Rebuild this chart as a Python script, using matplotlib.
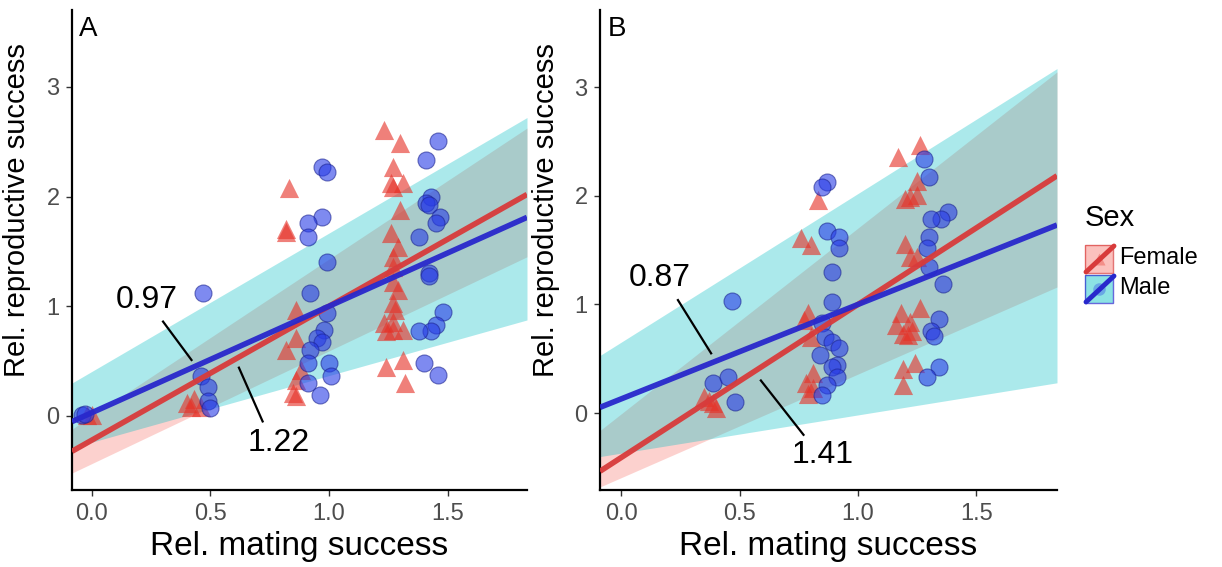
import numpy as np
import matplotlib.pyplot as plt
from matplotlib.patches import Rectangle

plt.rcParams["font.family"] = ["Liberation Sans", "DejaVu Sans"]

FEMALE_FILL = "#f8766d"
MALE_FILL = "#00bfc4"
FEMALE_LINE = "#d83b3b"
MALE_LINE = "#2828cc"
FEMALE_PT = "#e63228"
MALE_PT = "#283ce6"

# ---- panel A: relative mating vs reproductive success ----
a_female_x = [1.23, 1.30, 1.27, 1.26, 1.31, 1.27, 0.83, 0.82, 0.82, 1.30, 1.26, 1.29,
              1.27, 1.27, 1.27, 1.29, 1.27, 1.28, 1.23, 1.27, 1.31, 1.24, 1.27, 1.24,
              1.31, 1.32, 0.86, 0.86, 0.82, 0.88, 0.86, 0.85, 0.86, 0.40, 0.43, 0.46,
              0.42, -0.02, 0.00]
a_female_y = [2.61, 2.49, 2.27, 2.12, 2.12, 2.09, 2.08, 1.70, 1.68, 1.88, 1.67, 1.54,
              1.45, 1.36, 1.22, 1.15, 1.03, 0.97, 0.85, 0.86, 0.78, 0.77, 0.78, 0.45,
              0.51, 0.30, 0.97, 0.71, 0.60, 0.42, 0.33, 0.21, 0.18, 0.12, 0.15, 0.08,
              0.08, 0.01, 0.01]
a_male_x = [1.46, 1.41, 0.97, 0.99, 1.43, 1.41, 1.42, 0.97, 0.91, 0.91, 1.47, 1.45,
            1.38, 0.99, 1.42, 1.42, 0.47, 0.92, 0.99, 0.98, 0.95, 0.97, 0.92, 0.91,
            0.91, 1.00, 1.01, 0.96, 1.48, 1.45, 1.43, 1.38, 1.40, 1.46, 0.46, 0.49,
            0.49, 0.50, -0.04, -0.03]
a_male_y = [2.51, 2.33, 2.27, 2.22, 2.00, 1.94, 1.92, 1.81, 1.76, 1.63, 1.81, 1.76,
            1.63, 1.40, 1.30, 1.28, 1.12, 1.12, 0.94, 0.78, 0.71, 0.67, 0.60, 0.48,
            0.30, 0.48, 0.36, 0.19, 0.95, 0.83, 0.77, 0.77, 0.48, 0.37, 0.36, 0.26,
            0.14, 0.07, 0.01, 0.02]

# ---- panel B ----
b_female_x = [1.26, 1.17, 1.25, 1.22, 1.25, 1.20, 0.83, 0.76, 0.80, 1.20, 1.22, 1.25,
              0.79, 0.77, 0.80, 0.81, 0.78, 0.79, 0.81, 1.18, 1.26, 1.22, 1.16, 1.23,
              1.19, 1.21, 1.19, 1.24, 1.19, 0.35, 0.39, 0.40, 0.37]
b_female_y = [2.47, 2.36, 2.14, 1.99, 2.01, 1.97, 1.96, 1.61, 1.55, 1.56, 1.44, 1.44,
              0.92, 0.86, 0.70, 0.37, 0.28, 0.18, 0.23, 0.92, 0.97, 0.84, 0.81, 0.76,
              0.73, 0.72, 0.41, 0.46, 0.26, 0.15, 0.09, 0.05, 0.11]
b_male_x = [1.28, 1.30, 0.87, 0.85, 1.38, 1.35, 1.31, 0.87, 0.92, 0.92, 1.30, 1.29,
            1.30, 0.89, 0.47, 0.89, 1.36, 1.34, 1.31, 1.32, 1.34, 1.29, 0.85, 0.86,
            0.89, 0.92, 0.84, 0.91, 0.89, 0.91, 0.87, 0.85, 0.39, 0.45, 0.48]
b_male_y = [2.34, 2.17, 2.13, 2.08, 1.85, 1.79, 1.79, 1.68, 1.62, 1.52, 1.62, 1.52,
            1.34, 1.30, 1.03, 1.02, 1.19, 0.87, 0.76, 0.71, 0.42, 0.33, 0.83, 0.70,
            0.65, 0.60, 0.53, 0.44, 0.42, 0.33, 0.26, 0.17, 0.28, 0.33, 0.10]

# fitted lines: (intercept, slope); bands: ((lower int, lower slope), (upper int, upper slope))
a_female_fit = (-0.22, 1.22)
a_male_fit = (0.03, 0.97)
b_female_fit = (-0.41, 1.41)
b_male_fit = (0.13, 0.87)
a_female_band = ((-0.434, 1.027), (0.00, 1.43))
a_male_band = ((-0.239, 0.607), (0.406, 1.261))
b_female_band = ((-0.595, 0.954), (-0.008, 1.711))
b_male_band = ((-0.369, 0.352), (0.652, 1.369))

panels = [
    dict(tag="A", rect=[72, 10, 527, 490], xlim=(-0.084, 1.835), ylim=(-0.675, 3.70),
         fx=a_female_x, fy=a_female_y, mx=a_male_x, my=a_male_y,
         ffit=a_female_fit, mfit=a_male_fit, fband=a_female_band, mband=a_male_band,
         mlab=(0.23, 1.06, [0.30, 0.42], [0.86, 0.51]),
         flab=(0.79, -0.25, [0.62, 0.72], [0.44, -0.05]), ylab_x=31),
    dict(tag="B", rect=[600, 10, 1057, 490], xlim=(-0.089, 1.84), ylim=(-0.708, 3.71),
         fx=b_female_x, fy=b_female_y, mx=b_male_x, my=b_male_y,
         ffit=b_female_fit, mfit=b_male_fit, fband=b_female_band, mband=b_male_band,
         mlab=(0.165, 1.24, [0.24, 0.38], [1.04, 0.55]),
         flab=(0.85, -0.39, [0.59, 0.77], [0.30, -0.20]), ylab_x=560),
]

W, H = 1222, 567
fig = plt.figure(figsize=(W / 100, H / 100), dpi=100)

for p in panels:
    x0, y0, x1, y1 = p["rect"]
    ax = fig.add_axes([x0 / W, 1 - y1 / H, (x1 - x0) / W, (y1 - y0) / H])
    ax.set_xlim(*p["xlim"])
    ax.set_ylim(*p["ylim"])
    xs = np.linspace(p["xlim"][0], p["xlim"][1], 50)

    for band, col in [(p["fband"], FEMALE_FILL), (p["mband"], MALE_FILL)]:
        (li, ls), (ui, us) = band
        ax.fill_between(xs, li + ls * xs, ui + us * xs, color=col, alpha=0.33,
                        linewidth=0, zorder=1)

    ax.scatter(p["fx"], p["fy"], marker="^", s=190, color=FEMALE_PT, alpha=0.62,
               linewidths=0, zorder=2)
    ax.scatter(p["mx"], p["my"], marker="o", s=150, facecolor=MALE_PT,
               edgecolor="#1c2490", linewidths=0.8, alpha=0.6, zorder=3)

    for (b0, b1), col in [(p["ffit"], FEMALE_LINE), (p["mfit"], MALE_LINE)]:
        ax.plot(xs, b0 + b1 * xs, color=col, lw=4, alpha=0.95, zorder=4,
                solid_capstyle="butt")

    # slope labels
    for (tx, ty, lx, ly), slope in [(p["mlab"], p["mfit"][1]), (p["flab"], p["ffit"][1])]:
        ax.plot(lx, ly, color="black", lw=1.6, zorder=5)
        ax.text(tx, ty, f"{slope:.2f}", fontsize=23, ha="center", va="center", zorder=5)

    for side in ["top", "right"]:
        ax.spines[side].set_visible(False)
    for side in ["left", "bottom"]:
        ax.spines[side].set_linewidth(1.6)
    ax.set_xticks([0.0, 0.5, 1.0, 1.5])
    ax.set_xticklabels(["0.0", "0.5", "1.0", "1.5"])
    ax.set_yticks([0, 1, 2, 3])
    ax.tick_params(labelsize=17, labelcolor="#4d4d4d", color="#333333", length=4,
                   width=1, pad=5)
    ax.set_xlabel("Rel. mating success", fontsize=24, labelpad=5)
    ax.set_ylabel("Rel. reproductive success", fontsize=21)
    ax.yaxis.set_label_coords((p["ylab_x"] - x0) / (x1 - x0), (y1 - 210) / (y1 - y0))
    ax.text(0.016, 0.988, p["tag"], transform=ax.transAxes, fontsize=20,
            ha="left", va="top")

# legend drawn in pixel coordinates
lax = fig.add_axes([0, 0, 1, 1], facecolor="none")
lax.set_xlim(0, W)
lax.set_ylim(H, 0)
lax.axis("off")
lax.text(1085, 218, "Sex", fontsize=21, ha="left", va="center")
keys = [("Female", 245, FEMALE_FILL, FEMALE_LINE, FEMALE_PT, "^"),
        ("Male", 275, MALE_FILL, MALE_LINE, MALE_PT, "o")]
for label, top, fill, line, pt, mk in keys:
    lax.add_patch(Rectangle((1085, top), 28, 28, facecolor=fill, alpha=0.45,
                            edgecolor="none"))
    lax.add_patch(Rectangle((1085, top), 28, 28, facecolor="none",
                            edgecolor=line, lw=1.0, alpha=0.7))
    lax.plot([1099], [top + 14], marker=mk, ms=9, color=pt, alpha=0.35, mec="none")
    lax.plot([1086, 1114], [top + 27, top + 1], color=line, lw=3.5,
             solid_capstyle="round")
    lax.text(1119, top + 13, label, fontsize=17, ha="left", va="center")

fig.savefig("out.png", dpi=100)
